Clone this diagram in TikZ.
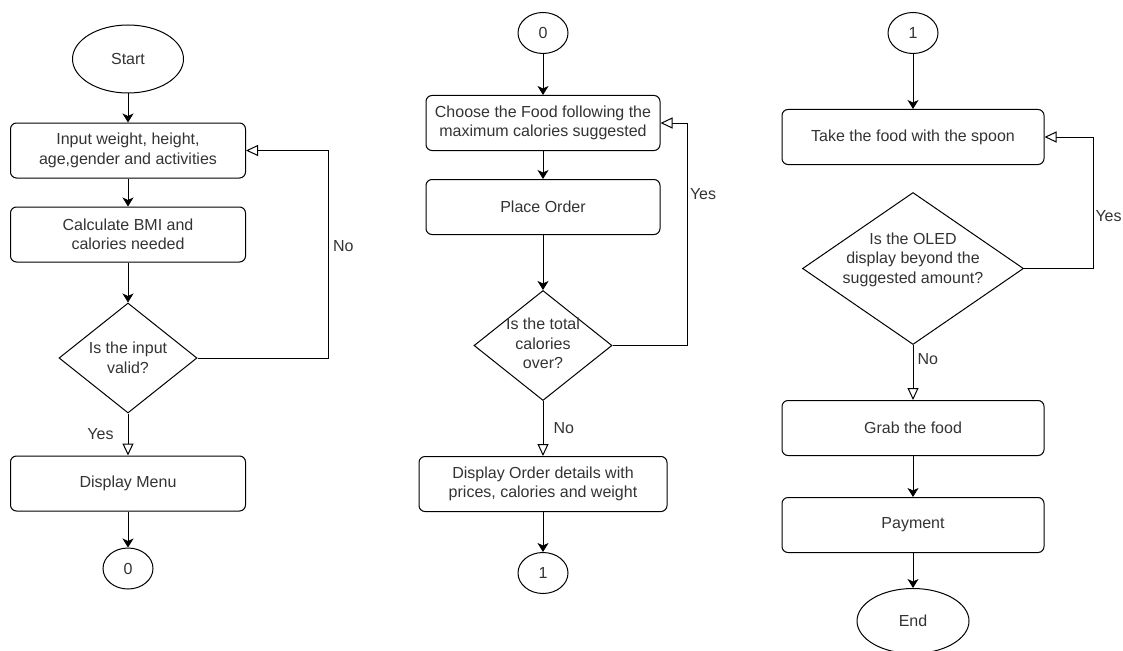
\documentclass[tikz,border=0pt]{standalone}
\usepackage{fontspec}
\setmainfont{Liberation Sans}
\usepackage{tikz}
\usetikzlibrary{positioning}
\usetikzlibrary{shapes,arrows.meta}

\begin{document}
\begin{tikzpicture}[x=1pt, y=1pt, line width=1pt,
    font=\fontsize{16}{19.5}\selectfont, text=black!80,
    term/.style={draw, ellipse, minimum width=111pt, minimum height=68pt},
    conn/.style={draw, ellipse, minimum width=50pt, minimum height=41pt, inner sep=0pt},
    proc/.style={draw, rectangle, rounded corners=6pt, minimum height=55pt, align=center, inner sep=2pt},
    dec/.style={draw, diamond, inner sep=0pt},
    line/.style={-{Stealth[length=9pt, width=11pt, inset=2.5pt]}},
    back/.style={-{Triangle[open, length=12pt, width=11pt, fill=white]}},
    lbl/.style={inner sep=2pt}]
  \useasboundingbox (0,0) rectangle (1123,-650);

  % Nodes, first column
  \node [term] (start) at (128,-59) {Start};
  \node [proc, minimum width=235pt, below=29pt of start] (input) {Input weight, height,\\age,gender and activities};
  \node [proc, minimum width=235pt, below=28pt of input] (calc) {Calculate BMI and\\calories needed};
  \node [dec, minimum width=138pt, minimum height=110pt, below=40pt of calc,
         label={[align=center]center:Is the input\\valid?}] (dec1) {};
  \node [proc, minimum width=235pt, below=42pt of dec1] (menu) {Display Menu};
  \node [conn, below=36pt of menu] (outA) {0};

  % Nodes, second column
  \node [conn] (inA) at (543,-33) {0};
  \node [proc, minimum width=234pt, below=41pt of inA] (choose) {Choose the Food following the\\maximum calories suggested};
  \node [proc, minimum width=234pt, below=28pt of choose] (order) {Place Order};
  \node [dec, minimum width=138pt, minimum height=110pt, below=55pt of order,
         label={[align=center, yshift=2pt]center:Is the total\\calories\\over?}] (dec2) {};
  \node [proc, minimum width=248pt, below=55pt of dec2] (details) {Display Order details with\\prices, calories and weight};
  \node [conn, below=40pt of details] (outB) {1};

  % Nodes, third column
  \node [conn] (inB) at (913,-33) {1};
  \node [proc, minimum width=262pt, below=55pt of inB] (take) {Take the food with the spoon};
  \node [dec, minimum width=221pt, minimum height=152pt, below=27pt of take,
         label={[align=center, yshift=9pt]center:Is the OLED\\display beyond the\\suggested amount?}] (dec3) {};
  \node [proc, minimum width=262pt, below=55pt of dec3] (grab) {Grab the food};
  \node [proc, minimum width=262pt, below=41pt of grab] (pay) {Payment};
  \node [term, minimum width=112pt, minimum height=65pt, below=35pt of pay] (stop) {End};

  % Arrows
  \draw [line] (start) -- (input);
  \draw [line] (input) -- (calc);
  \draw [line] (calc) -- (dec1);
  \draw [back] (dec1) -- node[left=12pt, lbl] {Yes} (menu);
  \draw [back] (dec1.east) -- ++(131,0) |- node[right=2pt, pos=0.27, lbl] {No} (input.east);
  \draw [line] (menu) -- (outA);

  \draw [line] (inA) -- (choose);
  \draw [line] (choose) -- (order);
  \draw [line] (order) -- (dec2);
  \draw [back] (dec2) -- node[right=8pt, lbl] {No} (details);
  \draw [back] (dec2.east) -- ++(75,0) |- node[right, pos=0.34, lbl] {Yes} (choose.east);
  \draw [line] (details) -- (outB);

  \draw [line] (inB) -- (take);
  \draw [back] (dec3) -- node[right=2pt, pos=0.25, lbl] {No} (grab);
  \draw [back] (dec3.east) -- ++(69,0) |- node[right, pos=0.2, lbl] {Yes} (take.east);
  \draw [line] (grab) -- (pay);
  \draw [line] (pay) -- (stop);
\end{tikzpicture}
\end{document}
